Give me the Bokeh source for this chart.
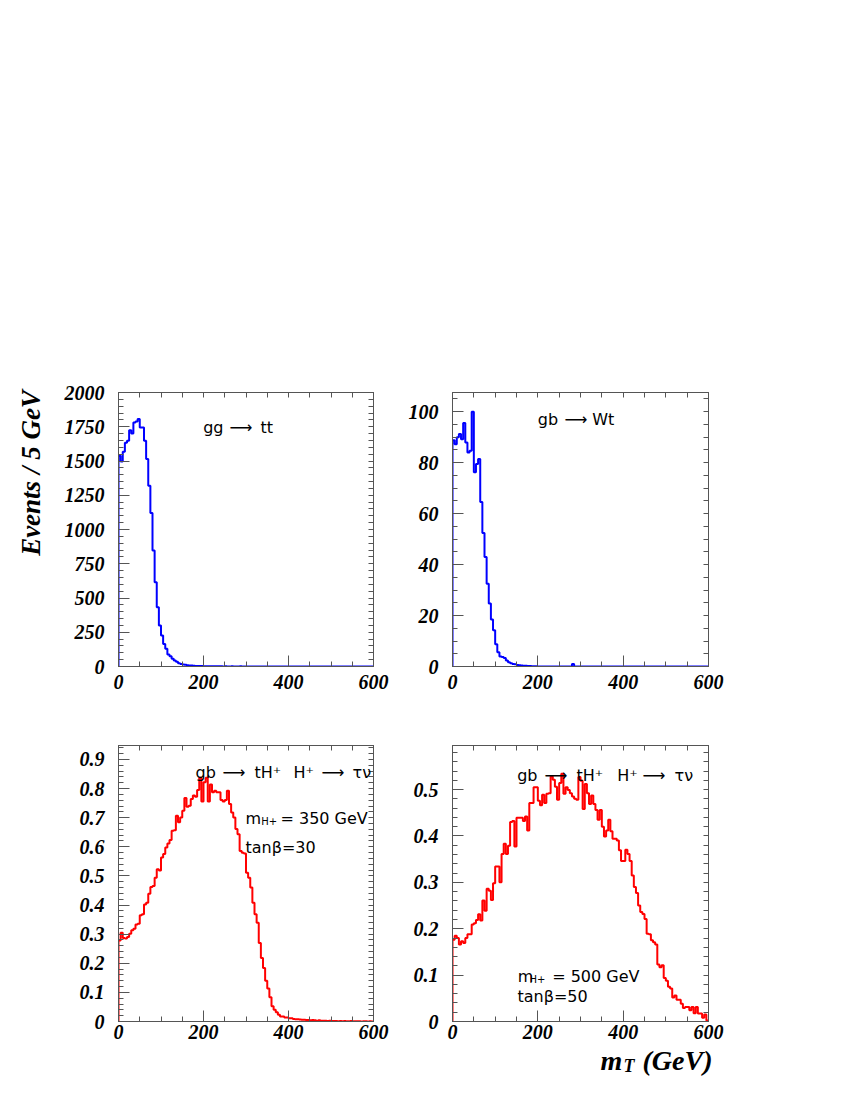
import numpy as np
from bokeh.plotting import figure
from bokeh.models import (Range1d, LinearAxis, SingleIntervalTicker, FixedTicker,
                          Label, Spacer)
from bokeh.layouts import column, row
from bokeh.embed import file_html
from bokeh.resources import INLINE

# ---------------- data (events per 5 GeV bin, 0..600 GeV) ----------------
bin_width = 5
x_max = 600

tt_counts = [
    1538, 1497, 1567, 1633, 1648, 1725, 1701, 1781, 1789, 1806, 1745, 1745,
    1648, 1514, 1320, 1120, 846, 615, 433, 299, 226, 165, 129, 87,
    75, 56, 44, 34, 24, 19, 15, 12, 10, 8, 7, 5,
    4, 4, 3, 3, 2, 2, 2, 1, 1, 1, 1, 1,
    1, 0, 1, 0, 0, 1, 0, 0, 0, 1, 0, 0,
    0, 0, 0, 0, 0, 0, 0, 0, 0, 0, 0, 0,
    0, 0, 0, 0, 0, 0, 0, 0, 0, 0, 0, 0,
    0, 0, 0, 0, 0, 0, 0, 0, 0, 0, 0, 0,
    0, 0, 0, 0, 0, 0, 0, 0, 0, 0, 0, 0,
    0, 0, 0, 0, 0, 0, 0, 0, 0, 0, 0, 0,
]

wt_counts = [
    88.8, 87.2, 89.9, 91.2, 89.2, 95.5, 87.9, 84.0, 84.6, 99.9, 76.2, 79.4,
    81.4, 64.5, 52.4, 43.0, 32.5, 24.7, 18.4, 14.2, 8.7, 5.6, 3.9, 3.7,
    3.3, 2.4, 1.7, 1.3, 1.0, 0.9, 0.6, 0.5, 0.4, 0.3, 0.3, 0.2,
    0.2, 0.1, 0.1, 0.1, 0, 0, 0, 0, 0, 0, 0, 0,
    0, 0, 0, 0, 0, 0, 0, 0, 1.0, 0, 0, 0,
    0, 0, 0, 0, 0, 0, 0, 0, 0, 0, 0, 0,
    0, 0, 0, 0, 0, 0, 0, 0, 0, 0, 0, 0,
    0, 0, 0, 0, 0, 0, 0, 0, 0, 0, 0, 0,
    0, 0, 0, 0, 0, 0, 0, 0, 0, 0, 0, 0,
    0, 0, 0, 0, 0, 0, 0, 0, 0, 0, 0, 0,
]

h350_counts = [
    0.278, 0.305, 0.287, 0.285, 0.290, 0.301, 0.313, 0.319, 0.333, 0.336,
    0.365, 0.368, 0.402, 0.408, 0.439, 0.462, 0.465, 0.494, 0.523, 0.519,
    0.563, 0.575, 0.598, 0.611, 0.623, 0.655, 0.657, 0.707, 0.684, 0.701,
    0.724, 0.768, 0.738, 0.741, 0.764, 0.776, 0.772, 0.795, 0.837, 0.756,
    0.822, 0.837, 0.756, 0.814, 0.787, 0.793, 0.787, 0.787, 0.761, 0.756,
    0.761, 0.793, 0.747, 0.718, 0.701, 0.661, 0.643, 0.586, 0.580, 0.577,
    0.511, 0.494, 0.460, 0.408, 0.368, 0.339, 0.270, 0.218, 0.184, 0.140,
    0.113, 0.083, 0.052, 0.040, 0.032, 0.023, 0.017, 0.017, 0.014, 0.014,
    0.011, 0.011, 0.009, 0.008, 0.008, 0.007, 0.006, 0.006, 0.005, 0.005,
    0.004, 0.005, 0.004, 0.003, 0.004, 0.003, 0.003, 0.003, 0.002, 0.003,
    0.002, 0.002, 0.002, 0.001, 0.002, 0.001, 0.002, 0.001, 0.001, 0.002,
    0.001, 0.001, 0.001, 0.001, 0.0, 0.001, 0.001, 0.0, 0.001, 0.0,
]

h500_counts = [
    0.176, 0.185, 0.180, 0.166, 0.173, 0.169, 0.180, 0.188, 0.188, 0.209,
    0.212, 0.219, 0.231, 0.218, 0.261, 0.239, 0.286, 0.282, 0.262, 0.298,
    0.334, 0.334, 0.300, 0.361, 0.383, 0.361, 0.379, 0.430, 0.432, 0.377,
    0.439, 0.439, 0.439, 0.432, 0.442, 0.412, 0.471, 0.471, 0.505, 0.505,
    0.476, 0.466, 0.489, 0.471, 0.491, 0.492, 0.528, 0.521, 0.506, 0.478,
    0.514, 0.534, 0.491, 0.505, 0.499, 0.492, 0.485, 0.480, 0.478, 0.527,
    0.519, 0.458, 0.512, 0.492, 0.469, 0.487, 0.469, 0.456, 0.435, 0.456,
    0.420, 0.399, 0.412, 0.435, 0.410, 0.394, 0.394, 0.390, 0.369, 0.346,
    0.346, 0.370, 0.361, 0.346, 0.315, 0.290, 0.277, 0.250, 0.236, 0.232,
    0.221, 0.189, 0.188, 0.175, 0.171, 0.166, 0.123, 0.117, 0.121, 0.094,
    0.088, 0.075, 0.071, 0.052, 0.056, 0.047, 0.047, 0.038, 0.029, 0.031,
    0.031, 0.024, 0.031, 0.018, 0.031, 0.017, 0.017, 0.008, 0.015, 0.002,
]

zero_label = {0: "0"}

# ---------------- layout constants (page pixels) ----------------
TOP_SPACE = 350
LABEL_EXTRA = 32
AUX_W = 56
FW_L, FW_R = 255, 256
FH_TOP, FH_BOT = 274, 276
AXIS_COL = "#555555"
TICK_FONT = "Liberation Serif"
ANN_FONT = "DejaVu Sans"
ANN_SIZE = "16px"


def histogram_figure(counts, ymax, y_interval, y_minor, color, fw, fh,
                     bl, br, bt, bb, x_standoff, overrides=None):
    p = figure(frame_width=fw, frame_height=fh,
               x_range=Range1d(0, x_max), y_range=Range1d(0, ymax),
               output_backend="svg", toolbar_location=None,
               min_border_left=bl, min_border_right=br,
               min_border_top=bt, min_border_bottom=bb,
               background_fill_color="white", border_fill_color="white")
    p.grid.visible = False
    p.outline_line_color = AXIS_COL
    p.outline_line_width = 1

    p.xaxis.ticker = SingleIntervalTicker(interval=200, num_minor_ticks=4)
    p.yaxis.ticker = SingleIntervalTicker(interval=y_interval, num_minor_ticks=y_minor)
    for ax in (p.xaxis[0], p.yaxis[0]):
        ax.major_tick_in = 11
        ax.major_tick_out = 0
        ax.minor_tick_in = 5
        ax.minor_tick_out = 0
        ax.axis_line_color = AXIS_COL
        ax.major_tick_line_color = AXIS_COL
        ax.minor_tick_line_color = AXIS_COL
        ax.major_label_text_font = TICK_FONT
        ax.major_label_text_font_style = "bold italic"
        ax.major_label_text_font_size = "20px"
        ax.major_label_text_color = "black"
    p.xaxis.major_label_standoff = x_standoff
    p.yaxis.major_label_standoff = 14
    if overrides:
        p.yaxis.major_label_overrides = overrides

    # tick marks on the opposite sides (no labels)
    step_x = 200 / 4
    step_y = y_interval / y_minor
    top_ticks = FixedTicker(ticks=[], minor_ticks=list(np.arange(0, x_max + 1e-9, step_x)))
    right_ticks = FixedTicker(ticks=[], minor_ticks=list(np.arange(0, ymax + 1e-9, step_y)))
    for loc, tk in (("above", top_ticks), ("right", right_ticks)):
        ax = LinearAxis(ticker=tk, major_tick_in=0, major_tick_out=0,
                        minor_tick_in=5, minor_tick_out=0,
                        axis_line_color=AXIS_COL,
                        minor_tick_line_color=AXIS_COL,
                        major_label_standoff=0)
        p.add_layout(ax, loc)

    vals = np.asarray(counts, dtype=float)
    edges = np.arange(len(vals) + 1) * bin_width
    xs = np.repeat(edges, 2)
    ys = np.concatenate([[0.0], np.repeat(vals, 2), [0.0]])
    p.line(xs, ys, line_color=color, line_width=2)
    return p


def ann(p, frame, text, page_x, page_y, size=ANN_SIZE):
    fl, ft, fw, fh, ymax = frame
    x = (page_x - fl) / fw * x_max
    y = (ft + fh - page_y) / fh * ymax
    p.add_layout(Label(x=x, y=y, text=text, text_font=ANN_FONT,
                       text_font_size=size, text_baseline="alphabetic",
                       text_align="left", text_color="black"))


def aux_figure(w, h):
    a = figure(width=w, height=h, x_range=Range1d(0, w), y_range=Range1d(0, h),
               x_axis_type=None, y_axis_type=None, output_backend="svg",
               toolbar_location=None, min_border=0,
               background_fill_color=None, border_fill_color=None)
    a.grid.visible = False
    a.outline_line_color = None
    return a


# ---------------- histogram panels ----------------
p1 = histogram_figure(tt_counts, 2000, 250, 5, "#0000ff", FW_L, FH_TOP,
                      118 - AUX_W, 25, 10, 50, 8)
p2 = histogram_figure(wt_counts, 107.5, 20, 4, "#0000ff", FW_R, FH_TOP,
                      54, 30, 10, 50, 8)
p3 = histogram_figure(h350_counts, 0.948, 0.1, 5, "#ff0000", FW_L, FH_BOT,
                      118 - AUX_W, 25, 29, 27, 3, zero_label)
p4 = histogram_figure(h500_counts, 0.595, 0.1, 5, "#ff0000", FW_R, FH_BOT,
                      54, 30, 29, 27, 3, zero_label)

row1_top = TOP_SPACE + LABEL_EXTRA
row1_h = 10 + FH_TOP + 50
row2_top = row1_top + row1_h
f1 = (118, row1_top + 10, FW_L, FH_TOP, 2000)
f2 = (452, row1_top + 10, FW_R, FH_TOP, 107.5)
f3 = (118, row2_top + 29, FW_L, FH_BOT, 0.948)
f4 = (452, row2_top + 29, FW_R, FH_BOT, 0.595)

for t, x in (("gg", 202.7), ("⟶", 229), ("tt", 260)):
    ann(p1, f1, t, x, 427)
for t, x in (("gb", 537.3), ("⟶", 564), ("Wt", 591.7)):
    ann(p2, f2, t, x, 419)

for t, x in (("gb", 195), ("⟶", 222), ("tH⁺", 254), ("H⁺", 293), ("⟶", 321), ("τν", 352)):
    ann(p3, f3, t, x, 772)
ann(p3, f3, "m", 245, 818)
ann(p3, f3, "H+", 260.7, 821, size="10px")
ann(p3, f3, "= 350 GeV", 280, 818)
ann(p3, f3, "tanβ=30", 245, 847)

for t, x in (("gb", 516.7), ("⟶", 544), ("tH⁺", 576), ("H⁺", 616.7), ("⟶", 642), ("τν", 674)):
    ann(p4, f4, t, x, 775)
ann(p4, f4, "m", 517.3, 976)
ann(p4, f4, "H+", 529, 978.5, size="10px")
ann(p4, f4, "= 500 GeV", 551.7, 976)
ann(p4, f4, "tanβ=50", 517, 996)

# ---------------- axis titles (separate text strips) ----------------
ylab_h = LABEL_EXTRA + row1_h
ylab = aux_figure(AUX_W, ylab_h)
ylab.add_layout(Label(x=30, y=row1_top + row1_h - 472.5, text="Events / 5 GeV",
                      text_font="Liberation Serif", text_font_style="bold italic",
                      text_font_size="27px", text_baseline="middle",
                      text_align="center", angle=np.pi / 2, text_color="black"))

OVERLAP = 12
bot_w, bot_h = 340, 45
row3_top = row2_top + 29 + FH_BOT + 27 - OVERLAP
xlab = aux_figure(bot_w, bot_h)
for t, x, y, s, al in (("m", 600, 1060, "28px", "left"),
                       ("T", 623, 1065, "18px", "left"),
                       ("(GeV)", 712, 1060, "28px", "right")):
    xlab.add_layout(Label(x=x - 398, y=row3_top + bot_h - y, text=t,
                          text_font="Liberation Serif", text_font_style="bold italic",
                          text_font_size=s, text_baseline="alphabetic",
                          text_align=al, text_color="black"))

layout = column(
    Spacer(height=TOP_SPACE, width=10),
    row(ylab, column(Spacer(height=LABEL_EXTRA, width=10), row(p1, p2))),
    row(Spacer(width=AUX_W, height=10), p3, p4),
    row(Spacer(width=398, height=bot_h), xlab, margin=(-OVERLAP, 0, 0, 0)),
)

open("out.html", "w").write(file_html(layout, INLINE))
